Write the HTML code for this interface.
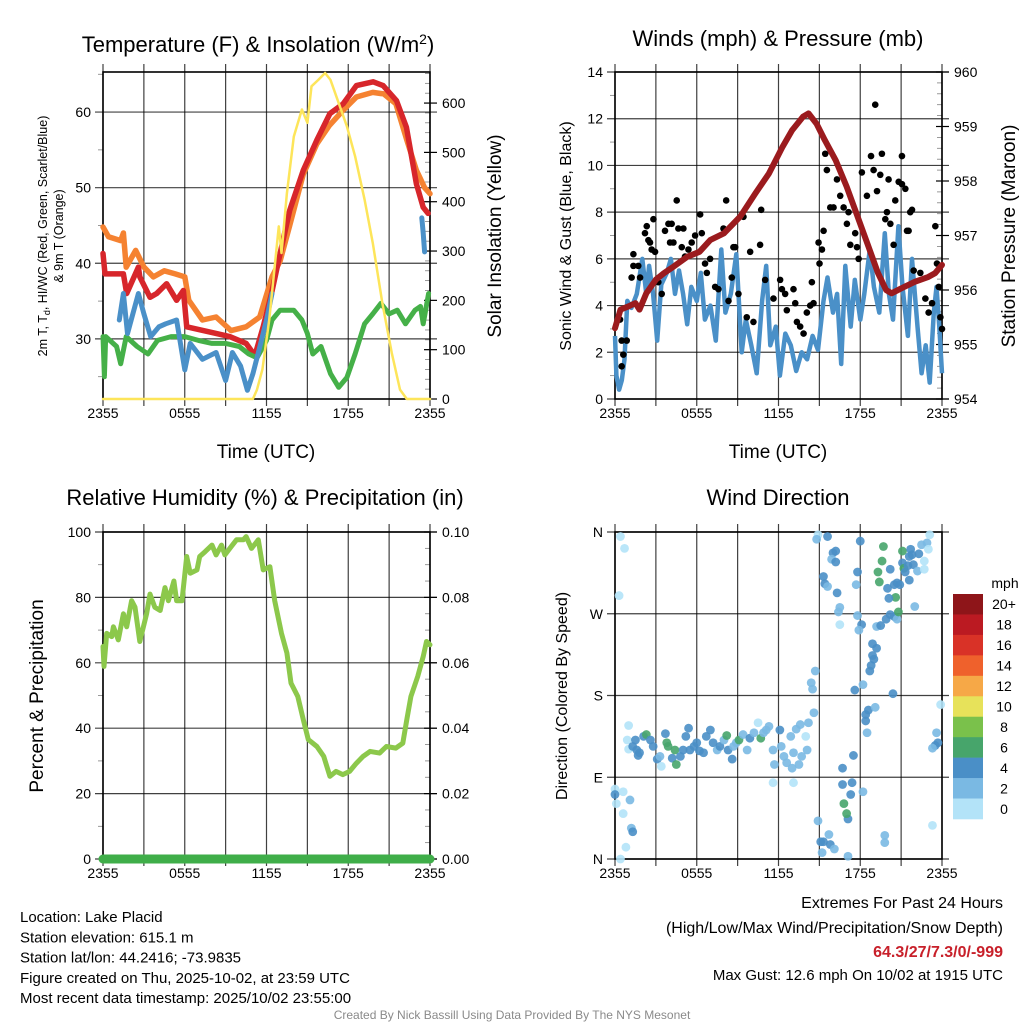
<!DOCTYPE html>
<html><head><meta charset="utf-8"><title>Lake Placid Meteogram</title>
<style>
html,body{margin:0;padding:0;background:#fff;}
svg{display:block;font-family:"Liberation Sans",Arial,sans-serif;}
</style></head>
<body>
<svg id="fig" width="1024" height="1024" viewBox="0 0 1024 1024" xmlns="http://www.w3.org/2000/svg"></svg>
<script>
// ---------- DATA ----------
const xTickHours = [0, 6, 12, 18, 24];
const xTickLabels = ["2355", "0555", "1155", "1755", "2355"];

// Panel 1: temperature (F)
const redHours = [0,0.15,1.5,1.74,2.6,2.7,3.45,3.94,4.67,5.4,5.9,6.14,7.36,8.34,9.3,10.5,11.15,11.76,12.37,13,13.7,14.7,15.7,16.65,17.63,18.6,19.83,20.56,21.54,22.27,23,23.5,23.86];
const redTemp = [41.3,38.6,38.6,36,39.5,38.2,35.5,36,37.3,35.1,36.4,31.6,31.1,30.7,30.3,29.4,27.8,31.6,36,41.3,47,52.3,56.3,59.8,61.1,63.5,64,63.5,61.5,58,50.5,47.4,46.6];
const orangeHours = [0,0.4,1.3,1.5,1.7,2.4,3,3.7,4.5,5.3,6,6.3,7.3,8.3,9.4,10.5,11.5,12.4,13,13.7,14.7,15.7,16.6,17.6,18.6,19.8,20.6,21.5,22.3,23,23.6,24];
const orangeTemp = [44.8,43.5,43,44,39.5,41.7,39.5,38.2,39,38.6,38.2,35.1,32.5,32.9,31.1,31.6,32.9,38.2,40.3,45,51.8,55.8,58.2,60.2,62,62.6,62.4,61.1,56.3,52.3,50,49.2];
const blueHours = [1.2,1.5,1.8,2.6,3.0,3.5,4.1,4.6,5.4,6.0,6.4,7.3,8.3,9.0,9.5,10.1,10.6,11.0,11.5,12.0,12.4,null,23.4,23.5,23.6];
const blueTemp = [32.5,36,30.7,36,33.3,30.3,31.6,32,32.5,25.9,29.4,27.3,28.2,24.5,28.2,26.4,23.2,25.4,28.9,32.5,36,null,46,44,41.5];
const greenHours = [0,0.1,0.2,1.0,1.3,1.7,2.5,3.3,4.0,5.0,6,7,8,9,10,10.7,11.3,12,12.4,13,14,14.6,15,15.4,16,16.7,17.3,17.9,18.5,19.2,19.8,20.4,21.0,21.6,22.2,22.9,23.3,23.5,23.9];
const greenTemp = [30.3,25,30.3,29,26.7,30.3,29,28,29.8,30.3,30.3,29.8,29.4,29.4,29,28,27.5,29.8,32.5,33.8,33.8,32.5,30.7,28,29,25.4,23.6,24.9,28,32,33.3,34.7,33.3,33.8,32,33.8,34.3,32,36];
const solarHours = [0,11,11.3,11.7,12.2,12.9,13.1,13.5,14,14.6,15.0,15.3,15.8,16.3,16.7,17.3,17.9,18.5,19.2,19.8,20.5,21.2,21.8,22.3,24];
const solarVals = [0,0,19,60,160,350,296,417,532,587,560,634,647,661,647,600,553,492,404,316,195,93,19,0,0];

// Panel 2: wind (mph) and pressure (mb)
const windHours = [0,0.1,0.3,0.5,0.7,0.9,1.2,1.6,2.0,2.3,2.5,2.8,3.1,3.4,3.8,4.1,4.4,4.7,5.0,5.3,5.6,6.0,6.3,6.6,7.0,7.4,7.8,8.1,8.5,8.9,9.3,9.6,10.0,10.4,10.8,11.1,11.4,11.8,12.1,12.5,12.9,13.3,13.7,14.1,14.5,14.9,15.3,15.6,16.0,16.3,16.6,16.9,17.3,17.6,18.0,18.3,18.7,19.0,19.4,19.8,20.1,20.4,20.8,21.1,21.5,21.8,22.2,22.5,22.8,23.1,23.4,23.6,23.8,24];
const windVals = [2.7,1.0,0.4,0.8,1.7,4.2,3.9,4.5,6.0,4.5,5.7,4.5,2.5,4.9,5.4,6.0,4.5,5.5,4.5,3.2,4.8,4.2,5.4,3.4,4.0,2.5,6.4,3.7,4.5,6.2,2.0,3.4,2.3,1.1,4.2,5.7,2.3,3.1,1.0,2.8,2.3,1.2,2.0,1.7,2.7,2.1,4.2,5.2,3.7,4.5,1.5,5.7,3.1,5.1,3.4,4.5,6.4,4.8,3.7,7.1,4.5,3.4,7.4,4.8,2.7,6.0,3.1,1.1,2.3,0.7,3.7,4.8,3.1,1.1];
const gustHours = [0.37,0.49,0.61,0.49,0.86,1.22,1.35,1.35,1.71,1.84,2.2,2.33,2.45,2.57,2.69,2.82,2.94,3.18,3.43,3.67,3.92,4.04,4.16,4.29,4.53,4.65,4.9,5.02,5.14,5.39,5.63,5.88,6.25,6.37,6.61,6.74,6.98,7.35,7.59,7.96,8.16,8.33,8.57,8.69,8.82,9.06,9.43,9.67,9.92,10.16,10.65,10.73,11.02,11.63,12.12,12.25,12.49,12.61,13.1,13.23,13.35,13.59,13.84,14.08,14.33,14.45,14.57,14.94,15.01,15.19,15.31,15.43,15.55,15.8,16.04,16.29,16.53,16.78,17.02,17.14,17.27,17.63,17.76,17.88,18.12,18.49,18.79,19.1,18.98,19.23,19.47,19.59,19.84,19.96,20.08,20.21,20.45,20.57,20.82,21.06,21.06,21.31,21.43,21.55,21.67,21.8,21.92,22.41,22.78,23.02,23.27,23.51,23.63,23.76,23.88,24.0];
const gustVals = [3.4,2.5,1.9,1.4,2.5,5.2,6.2,5.7,5.7,5.2,7.1,7.4,6.8,6.7,6.4,7.7,6.3,5.0,4.5,7.2,7.5,6.7,7.5,6.7,8.5,7.3,6.5,7.3,6.1,6.4,6.7,7.0,7.9,7.1,5.8,5.4,6.0,4.8,4.7,7.3,8.5,4.2,5.2,6.5,6.5,4.5,7.8,3.5,6.3,3.3,6.6,8.1,5.1,4.3,5.1,4.7,4.5,3.8,4.7,4.1,3.3,3.1,2.8,3.7,4.0,5.0,4.1,6.7,5.8,6.4,7.2,10.5,9.8,8.2,8.2,9.4,8.7,8.2,7.5,8.0,6.6,7.1,6.5,6.0,9.7,8.7,10.4,12.6,9.8,8.9,9.6,10.5,7.7,8.0,9.4,7.5,6.6,8.5,9.3,10.4,9.2,9.0,7.2,7.2,8.0,8.1,5.5,5.4,4.3,3.7,4.1,7.4,5.8,4.8,3.5,3.0];
const presHours = [0,0.4,1.0,1.5,1.8,2.3,3,3.6,4.3,5.3,6.2,7,8,9.2,10.3,11.3,12.3,13.0,13.8,14.2,14.8,15.4,16.2,17,17.8,18.6,19.3,19.9,20.3,21,22,23,23.5,24];
const presVals = [955.3,955.64,955.7,955.76,955.64,955.94,956.19,956.31,956.43,956.61,956.7,956.92,957.04,957.35,957.77,958.14,958.63,958.93,959.18,959.24,959.05,958.75,958.38,957.9,957.35,956.8,956.31,956.0,955.94,956.03,956.15,956.24,956.31,956.46];

// Panel 3: relative humidity (%) and precipitation (in)
const rhHours = [0,0.07,0.27,0.64,0.76,1.12,1.5,1.74,2.1,2.35,2.7,3.2,3.45,3.8,4.2,4.55,4.8,5.2,5.4,5.8,6.14,6.4,6.9,7.1,7.5,8.0,8.3,8.7,8.95,9.4,9.8,10.3,10.5,10.9,11.4,11.76,12.25,12.6,13.1,13.5,13.8,14.3,14.7,15.07,15.7,16.2,16.65,17.1,17.6,18.1,18.6,19.1,19.6,20.3,20.8,21.5,22.0,22.3,22.6,23.1,23.5,23.74,24];
const rhVals = [65,58.9,69,68,71,67,75,71,79,77,66.5,75,81,77,76,83,79,85,79,79,92.5,87.4,88.4,92.5,94,96,93,96,93,95.5,97.6,97.6,98.6,95,97.6,88.4,89.4,79,69,63,53.8,49.7,42.6,36.5,34.4,31.4,25.3,26.8,25.8,26.8,29.3,31.4,32.9,32.4,34.4,33.9,35.4,42.6,49.7,55.8,61.9,66.5,65.5];
const precipHours = [0,3,6,9,12,15,18,21,24];
const precipVals = [0,0,0,0,0,0,0,0,0];

// Panel 4: wind direction (deg) colored by speed (mph)
const dirHours = [0.4,0.7,0.3,0,0,0.1,0.6,0.6,1.1,1.2,1.3,0.8,0.4,
1.0,0.9,1.0,1.3,1.5,1.6,1.7,1.8,2.1,2.3,2.6,2.8,3.1,3.3,3.4,3.7,3.8,3.9,4.2,4.4,4.5,4.8,5.0,5.2,5.4,5.5,5.8,6.0,6.2,6.5,6.7,7.0,7.2,7.5,7.7,8.0,8.2,8.3,8.6,8.7,8.9,9.1,9.4,9.7,9.9,10.2,10.5,10.7,10.9,11.1,11.3,11.6,11.7,12.1,12.2,12.4,12.6,12.9,13.0,13.1,13.3,13.5,13.6,13.7,14.0,14.1,14.2,14.6,
11.6,13.1,14.4,14.5,14.7,14.9,15.1,15.2,15.3,15.7,15.8,16.1,17.1,17.1,17.0,16.8,17.3,16.7,17.4,16.7,17.5,18.2,18.5,18.4,18.4,18.6,19.1,18.2,17.6,18.7,18.8,19.0,18.9,19.2,18.9,20.4,23.3,19.8,19.8,23.9,23.6,23.7,23.5,23.3,
14.9,14.8,15.6,16.0,15.9,16.2,16.2,15.3,15.4,15.6,16.3,16.5,16.4,16.5,17.8,17.7,17.8,18.0,18.1,17.9,19.2,19.5,19.9,20.2,20.5,20.7,20.8,20.6,20.1,20.0,20.5,20.7,20.9,20.2,19.3,19.4,19.6,19.7,21.1,21.1,21.2,21.3,21.6,21.7,21.8,21.9,22.2,22.3,22.5,22.7,22.7,22.9,23.0,23.1,22.0,21.5,21.6];
const dirVals = [355,342,290,77,71,61,74,50,65,34,30,13,0,
147,131,121,124,131,120,114,117,135,137,131,124,110,113,102,138,128,124,111,120,104,113,120,135,144,120,124,128,119,117,135,142,128,120,124,131,136,120,110,124,128,131,137,120,133,139,150,133,139,142,146,120,104,142,124,113,106,135,100,117,143,104,148,113,135,120,150,161,
84,84,194,187,207,42,19,7,19,27,16,11,3,44,50,61,71,82,84,100,114,74,139,152,159,164,167,192,186,207,213,220,224,232,237,182,37,26,18,170,139,128,125,122,
357,352,355,337,330,339,327,311,303,300,293,277,272,258,316,302,268,350,258,252,256,257,264,269,267,264,272,288,287,298,302,304,302,319,316,305,328,344,339,326,320,316,307,341,335,324,317,336,346,328,319,348,341,357,278,323,333];
const dirSpeeds = [1,1,1,1,5,1,1,1,3,3,5,1,1,
1,1,1,5,5,5,5,5,5,7,5,5,5,3,1,5,7,7,5,7,7,5,5,5,5,5,5,5,5,5,5,5,5,3,5,3,7,5,5,3,3,7,3,3,5,3,1,7,3,3,3,3,3,5,3,3,3,3,3,3,3,3,3,3,1,3,3,3,
1,1,3,3,3,3,5,3,5,3,5,3,3,5,7,7,5,5,5,5,5,3,3,5,5,5,3,3,5,5,5,5,5,5,5,5,1,3,3,1,3,5,5,3,
1,3,5,5,3,5,5,5,5,3,5,3,3,1,5,3,3,5,5,3,3,5,5,5,5,3,7,7,5,5,5,5,5,5,7,7,7,7,7,5,7,5,5,5,5,5,3,5,3,1,1,3,1,1,3,5,5];
const cbarLabels = ["20+","18","16","14","12","10","8","6","4","2","0"];
const cbarColors = ["#8e1519","#bb1a22","#d93227","#ef612c","#f6a847","#e7e25a","#7ac14b","#47a56b","#4a8fc7","#7ab9e3","#b3e3f8"];

// ---------- DRAWING ----------
const NS = "http://www.w3.org/2000/svg";
const svg = document.getElementById("fig");
function mk(tag, attrs, parent) {
  const e = document.createElementNS(NS, tag);
  for (const k in attrs) e.setAttribute(k, attrs[k]);
  (parent || svg).appendChild(e);
  return e;
}
function txt(s, x, y, size, anchor, parent, extra) {
  const t = mk("text", Object.assign({x: x, y: y, "font-size": size, "text-anchor": anchor || "middle", fill: "#000"}, extra || {}), parent);
  t.textContent = s;
  return t;
}
function linScale(d0, d1, r0, r1) { return v => r0 + (v - d0) / (d1 - d0) * (r1 - r0); }
function pathFrom(xs, ys, sx, sy) {
  let d = "", pen = false;
  for (let i = 0; i < xs.length; i++) {
    if (xs[i] === null || ys[i] === null) { pen = false; continue; }
    d += (pen ? "L" : "M") + sx(xs[i]).toFixed(1) + "," + sy(ys[i]).toFixed(1);
    pen = true;
  }
  return d;
}

function frame(g, L, T, R, B, sx, leftTicks, sl, leftMinor, rightTicks, sr, rightMinor, leftLabels, rightLabels) {
  for (let h = 0; h <= 24; h += 3) {
    const x = sx(h);
    const ln = mk("line", {x1: x, y1: T - 8, x2: x, y2: B + 7, stroke: "#000", "stroke-width": 1.2, "stroke-opacity": 0.75}, g);
    
    
  }
  leftTicks.forEach((v, i) => {
    const y = sl(v);
    const ln = mk("line", {x1: L - 8, y1: y, x2: R + 7, y2: y, stroke: "#000", "stroke-width": 1.2, "stroke-opacity": 0.75}, g);
    
    
    const t = txt(leftLabels[i], L - 12, y + 5, 14, "end", g);
    
    
  });
  leftMinor.forEach(v => {
    const y = sl(v);
    mk("line", {x1: L - 5, y1: y, x2: L, y2: y, stroke: "#000", "stroke-width": 0.8, "stroke-opacity": 0.5}, g);
  });
  if (rightTicks) {
    rightTicks.forEach((v, i) => {
      const y = sr(v);
      mk("line", {x1: R - 6, y1: y, x2: R + 7, y2: y, stroke: "#000", "stroke-width": 1.2}, g);
      const t = txt(rightLabels[i], R + 12, y + 5, 14, "start", g);
      
      
    });
    rightMinor.forEach(v => {
      const y = sr(v);
      mk("line", {x1: R - 5, y1: y, x2: R, y2: y, stroke: "#000", "stroke-width": 0.8, "stroke-opacity": 0.5}, g);
    });
  }
  const f = mk("rect", {x: L, y: T, width: R - L, height: B - T, fill: "none", stroke: "#000", "stroke-width": 1.6}, g);
  
  
  xTickHours.forEach((h, i) => {
    const t = txt(xTickLabels[i], sx(h), B + 19, 14, "middle", g);
    
    
  });
}
function range(a, b, s) { const r = []; for (let v = a; v <= b + 1e-9; v += s) r.push(+v.toFixed(4)); return r; }

// ===== Panel 1 =====
(function () {
  const L = 103, T = 72, R = 430, B = 399;
  const g = mk("g", {});  
  const sx = linScale(0, 24, L, R);
  const sy = linScale(22.05, 65.3, B, T);
  const sr = linScale(0, 663, B, T);
  frame(g, L, T, R, B, sx, [30, 40, 50, 60], sy, [25, 35, 45, 55, 65], [0,100,200,300,400,500,600], sr, range(20, 660, 20), ["30","40","50","60"], ["0","100","200","300","400","500","600"]);
  const series = [
    [orangeHours, orangeTemp, "#f58231", 5.5, "orange-9m-temp-line", sy],
    [redHours, redTemp, "#d7262b", 5.5, "red-2m-temp-line", sy],
    [greenHours, greenTemp, "#45b048", 5, "green-dewpoint-line", sy],
    [blueHours, blueTemp, "#4a90c8", 5, "blue-windchill-line", sy],
    [solarHours, solarVals, "#fde55a", 2.5, "yellow-insolation-line", sr]
  ];
  series.forEach(s => {
    const p = mk("path", {d: pathFrom(s[0], s[1], sx, s[5]), fill: "none", stroke: s[2], "stroke-width": s[3], "stroke-linejoin": "round", "stroke-linecap": "round"}, g);
    
    
  });
  const t1 = txt("Temperature (F) & Insolation (W/m", 258, 52, 22, "middle", g);
  const sup = mk("tspan", {dy: -8, "font-size": 14}, t1); sup.textContent = "2";
  const cl = mk("tspan", {dy: 8}, t1); cl.textContent = ")";
  
  
  const xl = txt("Time (UTC)", 266, 458, 19, "middle", g);
  
  
  const yl = mk("text", {transform: "translate(47,236) rotate(-90)", "font-size": 12.5, "text-anchor": "middle"}, g);
  const a = mk("tspan", {x: 0, y: 0}, yl); a.textContent = "2m T, T";
  const sub = mk("tspan", {dy: 3, "font-size": 9}, yl); sub.textContent = "d";
  const b = mk("tspan", {dy: -3}, yl); b.textContent = ", HI/WC (Red, Green, Scarlet/Blue)";
  const c = mk("tspan", {x: 0, y: 16}, yl); c.textContent = "& 9m T (Orange)";
  
  
  const rl = txt("Solar Insolation (Yellow)", 0, 0, 19, "middle", g, {transform: "translate(501,236) rotate(-90)"});
  
  
})();

// ===== Panel 2 =====
(function () {
  const L = 615, T = 72, R = 942, B = 399;
  const g = mk("g", {});  
  const sx = linScale(0, 24, L, R);
  const sy = linScale(0, 14, B, T);
  const sr = linScale(954, 960, B, T);
  frame(g, L, T, R, B, sx, [0,2,4,6,8,10,12,14], sy, range(1, 13, 2), [954,955,956,957,958,959,960], sr, range(954.2, 959.8, 0.2), ["0","2","4","6","8","10","12","14"], ["954","955","956","957","958","959","960"]);
  const wp = mk("path", {d: pathFrom(windHours, windVals, sx, sy), fill: "none", stroke: "#4a90c8", "stroke-width": 4.5, "stroke-linejoin": "round"}, g);
  
  
  gustHours.forEach((h, i) => {
    const c = mk("circle", {cx: sx(h), cy: sy(gustVals[i]), r: 3.3, fill: "#000"}, g);
    
    
  });
  const pp = mk("path", {d: pathFrom(presHours, presVals, sx, sr), fill: "none", stroke: "#9b1b1e", "stroke-width": 6, "stroke-linejoin": "round", "stroke-linecap": "round"}, g);
  
  
  const t = txt("Winds (mph) & Pressure (mb)", 778, 46, 22, "middle", g);
  
  
  const xl = txt("Time (UTC)", 778, 458, 19, "middle", g);
  
  
  const yl = txt("Sonic Wind & Gust (Blue, Black)", 0, 0, 16, "middle", g, {transform: "translate(571,236) rotate(-90)"});
  
  
  const rl = txt("Station Pressure (Maroon)", 0, 0, 19, "middle", g, {transform: "translate(1015,236) rotate(-90)"});
  
  
})();

// ===== Panel 3 =====
(function () {
  const L = 103, T = 532, R = 430, B = 859;
  const g = mk("g", {});  
  const sx = linScale(0, 24, L, R);
  const sy = linScale(0, 100, B, T);
  const sr = linScale(0, 0.1, B, T);
  frame(g, L, T, R, B, sx, [0,20,40,60,80,100], sy, range(10, 90, 20), [0,0.02,0.04,0.06,0.08,0.1], sr, range(0.005, 0.095, 0.005), ["0","20","40","60","80","100"], ["0.00","0.02","0.04","0.06","0.08","0.10"]);
  const pp = mk("path", {d: pathFrom(precipHours, precipVals, sx, sr), fill: "none", stroke: "#3fae49", "stroke-width": 9, "stroke-linecap": "round"}, g);
  
  
  const rp = mk("path", {d: pathFrom(rhHours, rhVals, sx, sy), fill: "none", stroke: "#8cc84b", "stroke-width": 5, "stroke-linejoin": "round", "stroke-linecap": "round"}, g);
  
  
  const t = txt("Relative Humidity (%) & Precipitation (in)", 265, 505, 22, "middle", g);
  
  
  const yl = txt("Percent & Precipitation", 0, 0, 19, "middle", g, {transform: "translate(43,696) rotate(-90)"});
  
  
})();

// ===== Panel 4 =====
(function () {
  const L = 615, T = 532, R = 942, B = 859;
  const g = mk("g", {});  
  const sx = linScale(0, 24, L, R);
  const sy = linScale(0, 360, B, T);
  frame(g, L, T, R, B, sx, [0,90,180,270,360], sy, [], null, null, null, ["N","E","S","W","N"], null);
  function colorFor(s) {
    const idx = Math.min(10, Math.floor(s / 2));
    return cbarColors[10 - idx];
  }
  dirHours.forEach((h, i) => {
    const c = mk("circle", {cx: sx(h), cy: sy(dirVals[i]), r: 4.4, fill: colorFor(dirSpeeds[i]), "fill-opacity": 0.9}, g);
    
    
  });
  const t = txt("Wind Direction", 778, 505, 22, "middle", g);
  
  
  const yl = txt("Direction (Colored By Speed)", 0, 0, 16, "middle", g, {transform: "translate(567,696) rotate(-90)"});
  
  
  const cb = mk("g", {});  
  const h = (819 - 594) / cbarColors.length;
  cbarColors.forEach((col, i) => {
    const r = mk("rect", {x: 953, y: 594 + i * h, width: 30, height: h + 0.3, fill: col}, cb);
    
    
    const lt = txt(cbarLabels[i], 1004, 594 + i * h + h / 2 + 5, 14, "middle", cb);
    
    
  });
  const mph = txt("mph", 1005, 588, 14, "middle", cb);
  
  
})();

// ===== Footer text =====
(function () {
  const g = mk("g", {});  
  const lines = ["Location: Lake Placid", "Station elevation: 615.1 m", "Station lat/lon: 44.2416; -73.9835", "Figure created on Thu, 2025-10-02, at 23:59 UTC", "Most recent data timestamp: 2025/10/02 23:55:00"];
  lines.forEach((s, i) => {
    const t = txt(s, 20, 922 + i * 20.3, 15, "start", g);
    
    
  });
  const e = mk("g", {});  
  const a = txt("Extremes For Past 24 Hours", 1003, 908, 16, "end", e);
  
  
  const b = txt("(High/Low/Max Wind/Precipitation/Snow Depth)", 1003, 933, 16, "end", e);
  
  
  const c = txt("64.3/27/7.3/0/-999", 1003, 957, 16, "end", e, {fill: "#c8202a", "font-weight": "bold"});
  
  
  const d = txt("Max Gust: 12.6 mph On 10/02 at 1915 UTC", 1003, 980, 15, "end", e);
  
  
  const f = txt("Created By Nick Bassill Using Data Provided By The NYS Mesonet", 512, 1019, 12, "middle", svg, {fill: "#8a8a8a"});
  
  
})();
</script>
</body></html>
